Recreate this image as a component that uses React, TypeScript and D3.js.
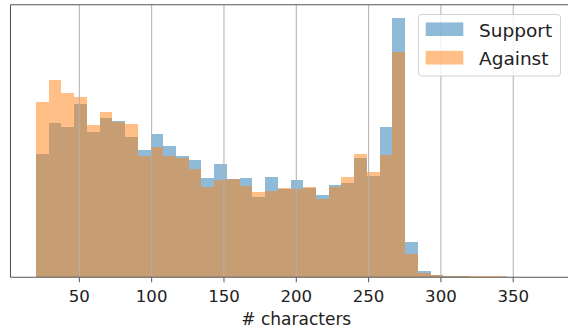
import React from "react";
import * as d3 from "d3";

// histogram of comment length, 40 bins from 20 to 372 characters
const binStart = 20;
const binEnd = 372;
const binCount = 40;

const support = [
  1236, 1540, 1503, 1730, 1453, 1593, 1566, 1406, 1276, 1430,
  1316, 1216, 1176, 990, 1130, 980, 990, 803, 1000, 886,
  976, 890, 826, 926, 940, 1190, 1016, 1503, 2596, 350,
  63, 23, 10, 8, 6, 5, 4, 3, 3, 2,
];
const against = [
  1753, 1970, 1840, 1803, 1526, 1653, 1556, 1530, 1216, 1303,
  1216, 1190, 1080, 903, 976, 986, 916, 850, 863, 890,
  880, 900, 786, 903, 1000, 1230, 1053, 1223, 2256, 236,
  46, 23, 12, 10, 9, 8, 8, 7, 7, 6,
];

const series = [
  { name: "Support", values: support, color: "#1f77b4" },
  { name: "Against", values: against, color: "#ff7f0e" },
];

const xTicks = [50, 100, 150, 200, 250, 300, 350];

const W = 568;
const H = 329;
const left = 10.5;
const right = 570.5;
const top = 4.7;
const bottom = 277.3;

export default function App() {
  const binW = (binEnd - binStart) / binCount;
  const pad = 0.05 * (binEnd - binStart);
  const x = d3.scaleLinear().domain([binStart - pad, binEnd + pad]).range([left, right]);
  const yMax = d3.max(series, (s) => d3.max(s.values)) * 1.05;
  const y = d3.scaleLinear().domain([0, yMax]).range([bottom, top]);

  const font = "DejaVu Sans, sans-serif";

  return (
    <div style={{ position: "fixed", left: 0, top: 0 }}>
      <svg width={W} height={H} style={{ display: "block" }}>
        <rect width={W} height={H} fill="#fff" />
        {series.map((s) => (
          <g key={s.name}>
            {s.values.map((v, i) => {
              const x0 = x(binStart + i * binW);
              const x1 = x(binStart + (i + 1) * binW);
              return (
                <rect
                  key={i}
                  x={x0}
                  y={y(v)}
                  width={x1 - x0}
                  height={bottom - y(v)}
                  fill={s.color}
                  fillOpacity={0.5}
                  shapeRendering="crispEdges"
                />
              );
            })}
          </g>
        ))}
        {/* grid on top of bars, like matplotlib */}
        {xTicks.map((t) => (
          <line key={t} x1={x(t)} x2={x(t)} y1={top} y2={bottom} stroke="#b0b0b0" strokeWidth={1} />
        ))}
        {/* frame */}
        <line x1={left} x2={W} y1={top} y2={top} stroke="#555" strokeWidth={1.1} />
        <line x1={left} x2={left} y1={top} y2={bottom} stroke="#555" strokeWidth={1.1} />
        <line x1={left} x2={W} y1={bottom} y2={bottom} stroke="#555" strokeWidth={1.1} />
        {xTicks.map((t) => (
          <g key={t} transform={`translate(${x(t)},${bottom})`}>
            <line y1={0} y2={5} stroke="#555" strokeWidth={1} />
            <text y={24.5} textAnchor="middle" fontFamily={font} fontSize={16.6} fill="#222">
              {t}
            </text>
          </g>
        ))}
        <text x={x(200)} y={325} textAnchor="middle" fontFamily={font} fontSize={17} fill="#222">
          # characters
        </text>
        {/* legend */}
        <g>
          <rect x={418.5} y={14.5} width={142} height={61.5} rx={3} fill="#fff" fillOpacity={0.8} stroke="#d0d0d0" strokeWidth={1} />
          {series.map((s, i) => (
            <g key={s.name} transform={`translate(0,${i * 28.5})`}>
              <rect x={425.7} y={22.4} width={37.6} height={13.6} fill={s.color} fillOpacity={0.5} />
              <text x={479} y={36.5} fontFamily={font} fontSize={18.5} fill="#222">
                {s.name}
              </text>
            </g>
          ))}
        </g>
      </svg>
    </div>
  );
}
